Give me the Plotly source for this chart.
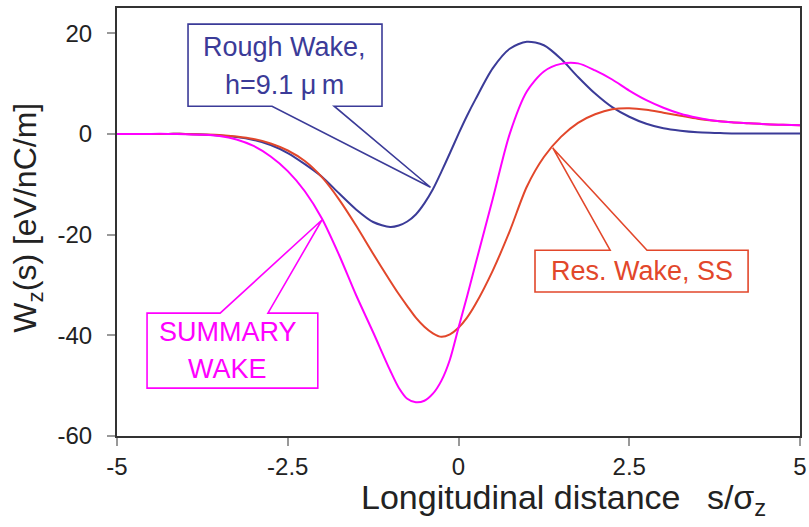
import plotly.graph_objects as go

# ---- data ----
s_vals = [-5.0, -4.75, -4.5, -4.25, -4.0, -3.75, -3.5, -3.25, -3.0, -2.75,
          -2.5, -2.25, -2.0, -1.75, -1.5, -1.25, -1.0, -0.875, -0.75, -0.625,
          -0.5, -0.375, -0.25, -0.125, 0.0, 0.125, 0.25, 0.5, 0.75, 1.0,
          1.25, 1.5, 1.75, 2.0, 2.25, 2.5, 2.75, 3.0, 3.25, 3.5,
          3.75, 4.0, 4.25, 4.5, 4.75, 5.0]

rough_wake = [0.0, 0.0, 0.0, 0.0, 0.0, -0.1, -0.3, -0.6, -1.2, -2.2,
              -3.8, -6.0, -8.5, -11.8, -15.0, -17.5, -18.5, -18.2, -17.4, -16.0,
              -13.8, -11.0, -7.5, -3.8, 0.0, 3.6, 6.9, 13.0, 16.9, 18.3,
              17.6, 14.9, 11.3, 8.0, 5.3, 3.4, 2.0, 1.1, 0.6, 0.3,
              0.2, 0.1, 0.1, 0.1, 0.1, 0.1]

res_wake = [0.0, 0.0, 0.0, 0.0, 0.0, -0.1, -0.2, -0.5, -1.0, -1.9,
            -3.3, -5.4, -8.6, -13.0, -18.2, -23.8, -29.2, -31.8, -34.2, -36.5,
            -38.3, -39.6, -40.3, -39.8, -38.5, -36.5, -33.8, -27.2, -19.3, -10.5,
            -4.6, -0.6, 2.2, 3.9, 4.9, 5.1, 4.8, 4.2, 3.6, 3.0,
            2.6, 2.3, 2.1, 1.9, 1.8, 1.7]

summary_wake = [0.0, 0.0, 0.0, 0.0, -0.05, -0.15, -0.4, -1.1, -2.4, -4.5,
                -7.4, -11.4, -16.8, -24.0, -32.0, -39.4, -47.0, -50.4, -52.6, -53.3,
                -53.0, -51.6, -49.0, -44.8, -38.5, -32.3, -25.8, -13.0, 0.0, 8.4,
                12.4, 13.9, 14.0, 12.6, 10.8, 8.6, 6.7, 5.2, 4.0, 3.2,
                2.6, 2.3, 2.1, 1.9, 1.8, 1.7]

x_tickvals = [-5, -2.5, 0, 2.5, 5]
x_ticktext = ["-5", "-2.5", "0", "2.5", "5"]
y_tickvals = [-60, -40, -20, 0, 20]
y_ticktext = ["-60", "-40", "-20", "0", "20"]

BLUE = "#3b3b98"
RED = "#e2472b"
MAGENTA = "#ff00ff"
FONT = "Arial, Liberation Sans, sans-serif"

fig = go.Figure()
for name, vals, col in [("Rough Wake", rough_wake, BLUE),
                        ("Res. Wake, SS", res_wake, RED),
                        ("SUMMARY WAKE", summary_wake, MAGENTA)]:
    fig.add_trace(go.Scatter(x=s_vals, y=vals, mode="lines", name=name,
                             line=dict(color=col, width=2, shape="spline", smoothing=0.8),
                             showlegend=False, hoverinfo="skip"))

# ---- callout boxes (speech bubbles) in data coordinates ----
def bubble(pts, color):
    d = "M " + " L ".join(f"{x},{y}" for x, y in pts) + " Z"
    return dict(type="path", path=d, xref="x", yref="y",
                line=dict(color=color, width=1.6), fillcolor="rgba(0,0,0,0)", layer="above")

shapes = [
    bubble([(-2.73, 5.5), (-3.96, 5.5), (-3.96, 21.8), (-1.12, 21.8), (-1.12, 5.5),
            (-1.82, 5.5), (-0.41, -10.6)], BLUE),
    bubble([(-2.79, -35.6), (-2.06, -35.6), (-2.06, -50.5), (-4.56, -50.5), (-4.56, -35.6),
            (-3.49, -35.6), (-2.0, -17.1)], MAGENTA),
    bubble([(2.76, -23.1), (4.24, -23.1), (4.24, -31.4), (1.12, -31.4), (1.12, -23.1),
            (2.22, -23.1), (1.38, -2.8)], RED),
]

annotations = [
    dict(x=-2.55, y=17.2, xref="x", yref="y", text="Rough Wake,", showarrow=False,
         font=dict(family=FONT, size=27, color=BLUE)),
    dict(x=-2.55, y=9.8, xref="x", yref="y", text="h=9.1 μ\u2009m", showarrow=False,
         font=dict(family=FONT, size=27, color=BLUE)),
    dict(x=-3.38, y=-39.4, xref="x", yref="y", text="SUMMARY", showarrow=False,
         font=dict(family=FONT, size=27, color=MAGENTA)),
    dict(x=-3.38, y=-46.6, xref="x", yref="y", text="WAKE", showarrow=False,
         font=dict(family=FONT, size=27, color=MAGENTA)),
    dict(x=2.68, y=-27.3, xref="x", yref="y", text="Res. Wake, SS", showarrow=False,
         font=dict(family=FONT, size=27, color=RED)),
    # axis titles
    dict(x=-0.131, y=0.509, xref="paper", yref="paper", text="W<sub>z</sub>(s) [eV/nC/m]",
         textangle=-90, showarrow=False, xanchor="center", yanchor="middle",
         font=dict(family=FONT, size=32, color="#222222")),
    dict(x=0.355, y=-0.148, xref="paper", yref="paper",
         text="Longitudinal distance \u2002s/σ<sub>z</sub>", showarrow=False,
         xanchor="left", yanchor="middle",
         font=dict(family=FONT, size=34, color="#222222")),
]

axis_common = dict(showgrid=False, zeroline=False, showline=True, mirror=True,
                   linecolor="#333333", linewidth=2, ticks="outside", ticklen=8,
                   tickcolor="#999999", tickwidth=1.5, automargin=False,
                   tickfont=dict(family=FONT, size=24, color="#222222"))

fig.update_layout(
    width=809, height=527,
    margin=dict(l=117, r=9, t=8, b=91),
    paper_bgcolor="white", plot_bgcolor="white",
    xaxis=dict(range=[-5, 5], tickmode="array", tickvals=x_tickvals, ticktext=x_ticktext,
               ticklabelstandoff=0, **axis_common),
    yaxis=dict(range=[-60, 25], tickmode="array", tickvals=y_tickvals, ticktext=y_ticktext,
               ticklabelstandoff=10, **axis_common),
    shapes=shapes,
    annotations=annotations,
)

# remove the browser's default 8px body margin so the figure fills the window exactly
fig.write_html("out.html", config={"displayModeBar": False},
               post_script="document.body.style.margin='0px';document.body.style.overflow='hidden';")
